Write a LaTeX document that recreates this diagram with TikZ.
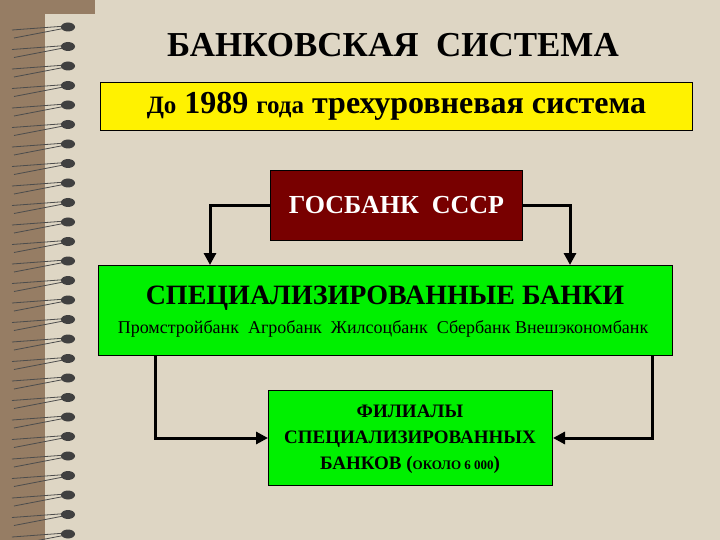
\documentclass[tikz,border=0pt]{standalone}
\usepackage{fontspec}
\setmainfont{Liberation Serif}
\usetikzlibrary{arrows.meta}
\definecolor{paper}{RGB}{222,214,196}
\definecolor{strip}{RGB}{150,125,100}
\definecolor{gred}{RGB}{120,0,0}
\definecolor{gr}{RGB}{0,240,0}
\begin{document}
\begin{tikzpicture}[x=1pt,y=-1pt,
  box/.style={draw=black,line width=1pt,inner sep=0pt},
  conn/.style={line width=3pt,-{Triangle[length=12pt,width=12pt]}}]
\useasboundingbox (0,0) rectangle (720,540);
\fill[paper] (0,0) rectangle (720,540);
\fill[strip] (0,0) rectangle (45,540);
\fill[strip] (0,0) rectangle (95,14);
\foreach \i in {0,...,26}{
  \draw[black!70,line width=0.8pt] (12,{30+\i*19.5}) -- (66,{26+\i*19.5});
  \draw[black!70,line width=0.8pt] (14,{38+\i*19.5}) -- (66,{28+\i*19.5});
  \fill[black!75] (68,{27+\i*19.5}) ellipse (7 and 4.5);
}
\node[font=\bfseries\fontsize{35}{40}\selectfont] (title) at (393,45) {БАНКОВСКАЯ\ \ СИСТЕМА};
\node[box,fill=yellow,minimum width=592,minimum height=48,anchor=north west] (yb) at (100,82) {};
\node[font=\bfseries\fontsize{32}{36}\selectfont] (yt) at (yb.center) {{\fontsize{25}{28}\selectfont До} 1989 {\fontsize{25}{28}\selectfont года} трехуровневая система};
\node[box,fill=gred,minimum width=252,minimum height=70,anchor=north west,text=white,font=\bfseries\fontsize{26}{30}\selectfont] (gb) at (270,170) {ГОСБАНК\ \ СССР};
\node[box,fill=gr,minimum width=574,minimum height=90,anchor=north west] (sb) at (98,265) {};
\node[font=\bfseries\fontsize{28}{32}\selectfont] (st) at (385,298) {СПЕЦИАЛИЗИРОВАННЫЕ БАНКИ};
\node[font=\fontsize{18}{20}\selectfont] (ss) at (383,329) {Промстройбанк\ \ Агробанк\ \ Жилсоцбанк\ \ Сбербанк Внешэкономбанк};
\node[box,fill=gr,minimum width=284,minimum height=95,anchor=north west] (fb) at (268,390) {};
\node[font=\bfseries\fontsize{19}{26}\selectfont,align=center] (ft) at (410,439) {ФИЛИАЛЫ\\СПЕЦИАЛИЗИРОВАННЫХ\\БАНКОВ ({\fontsize{13}{16}\selectfont ОКОЛО 6 000})};
\draw[conn] (gb.west) -| (sb.north -| 210,0);
\draw[conn] (gb.east) -| (sb.north -| 570,0);
\draw[conn] (sb.south -| 155,0) |- (fb.west);
\draw[conn] (sb.south -| 652,0) |- (fb.east);
\end{tikzpicture}
\end{document}
